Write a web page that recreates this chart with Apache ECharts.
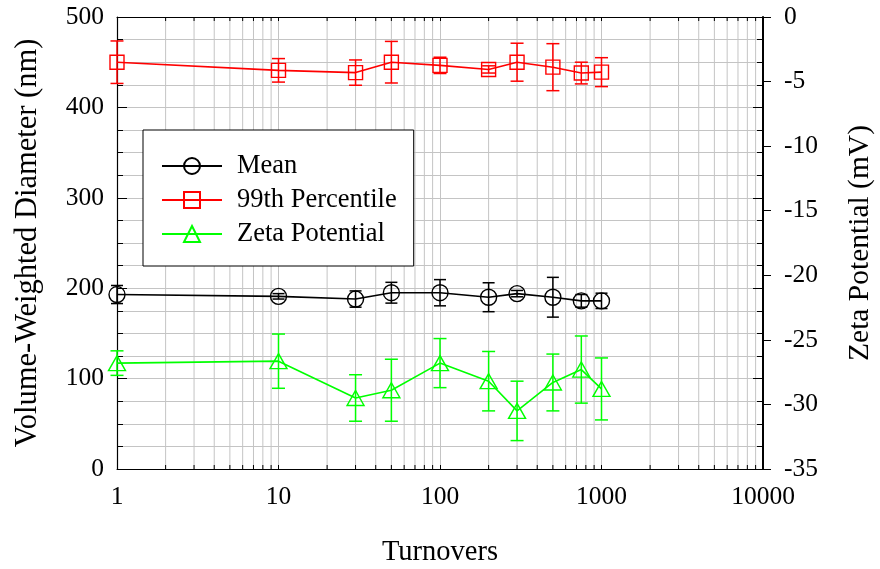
<!DOCTYPE html>
<html>
<head>
<meta charset="utf-8">
<title>Turnovers</title>
<script src="https://cdn.jsdelivr.net/npm/echarts@6/dist/echarts.min.js"></script>
<style>
  html, body { margin: 0; padding: 0; background: #fff; }
  #chart { width: 880px; height: 569px; }
</style>
</head>
<body>
<div id="chart"></div>
<script>
// Turnover counts (x, log scale)
const turnovers = [1, 10, 30, 50, 100, 200, 300, 500, 750, 1000];

// Volume-weighted mean diameter (nm) and its error
const meanDiameter = [193, 191, 188, 195, 195, 190, 194, 190, 186, 186];
const meanError    = [10, 3, 9, 11.5, 14.5, 16, 3.5, 22, 7, 8.5];

// 99th percentile diameter (nm) and its error
const p99Diameter = [450, 441, 438.5, 450, 446.5, 442, 450, 444.5, 438, 439];
const p99Error    = [23.5, 13, 14, 23, 9, 4, 21, 26, 12, 16];

// Zeta potential (mV) and its error
const zetaPotential = [-26.8, -26.65, -29.5, -28.9, -26.8, -28.2, -30.5, -28.3, -27.3, -28.8];
const zetaError     = [0.95, 2.1, 1.8, 2.4, 1.9, 2.3, 2.3, 2.2, 2.6, 2.4];

// Axis ticks
const xTicks = [1, 10, 100, 1000, 10000];
const leftTicks = [0, 100, 200, 300, 400, 500];
const rightTicks = [-35, -30, -25, -20, -15, -10, -5, 0];

// Minor log positions 2..9 within each decade
const xMinorTicks = [];
for (let d = 0; d < xTicks.length - 1; d++) {
  for (let k = 2; k <= 9; k++) xMinorTicks.push(k * xTicks[d]);
}

const FONT = 'Liberation Serif';
const GRID_COLOR = '#c4c4c4';

function pairs(ys) { return turnovers.map((x, i) => [x, ys[i]]); }
function errRows(ys, es) { return turnovers.map((x, i) => [x, ys[i] - es[i], ys[i] + es[i]]); }

function errorBarRenderer(color, capHalf) {
  return function (params, api) {
    const x = api.value(0);
    const lo = api.coord([x, api.value(1)]);
    const hi = api.coord([x, api.value(2)]);
    const st = { stroke: color, lineWidth: 1.5 };
    return {
      type: 'group',
      children: [
        { type: 'line', shape: { x1: lo[0], y1: lo[1], x2: hi[0], y2: hi[1] }, style: st },
        { type: 'line', shape: { x1: hi[0] - capHalf, y1: hi[1], x2: hi[0] + capHalf, y2: hi[1] }, style: st },
        { type: 'line', shape: { x1: lo[0] - capHalf, y1: lo[1], x2: lo[0] + capHalf, y2: lo[1] }, style: st }
      ]
    };
  };
}

// Minor vertical grid lines plus inside minor ticks on top and bottom edges
function minorGridRenderer(params, api) {
  const v = api.value(0);
  const b = api.coord([v, leftTicks[0]]);
  const t = api.coord([v, leftTicks[leftTicks.length - 1]]);
  return {
    type: 'group',
    children: [
      { type: 'line', shape: { x1: b[0], y1: b[1], x2: t[0], y2: t[1] }, style: { stroke: GRID_COLOR, lineWidth: 1 } },
      { type: 'line', shape: { x1: b[0], y1: b[1], x2: b[0], y2: b[1] - 4 }, style: { stroke: '#000', lineWidth: 1 } },
      { type: 'line', shape: { x1: t[0], y1: t[1], x2: t[0], y2: t[1] + 4 }, style: { stroke: '#000', lineWidth: 1 } }
    ]
  };
}

const chart = echarts.init(document.getElementById('chart'), null, { renderer: 'canvas' });

const textBase = { fontFamily: FONT, color: '#000' };

chart.setOption({
  animation: false,
  backgroundColor: '#fff',
  textStyle: { fontFamily: FONT },
  grid: { left: 117, right: 117, top: 17, bottom: 100, containLabel: false, outerBoundsMode: 'none' },
  legend: {
    left: 143,
    top: 130,
    orient: 'vertical',
    data: ['Mean', '99th Percentile', 'Zeta Potential'],
    itemWidth: 60,
    itemHeight: 20,
    itemGap: 7,
    padding: [22.5, 17, 18.5, 18],
    backgroundColor: '#fff',
    borderColor: '#000',
    borderWidth: 1,
    borderRadius: 0,
    textStyle: Object.assign({ fontSize: 26.5, padding: [0, 0, 0, 10] }, textBase)
  },
  xAxis: [
    {
      type: 'log', logBase: 10, position: 'bottom',
      min: xTicks[0], max: xTicks[xTicks.length - 1],
      name: 'Turnovers', nameLocation: 'middle', nameGap: 69,
      nameTextStyle: Object.assign({ fontSize: 28.5 }, textBase),
      axisLine: { lineStyle: { color: '#000', width: 1 } },
      axisTick: { inside: true, length: 4, lineStyle: { color: '#000' } },
      axisLabel: Object.assign({
        fontSize: 25.5, margin: 15,
        formatter: v => String(xTicks.find(t => Math.abs(t - v) / t < 1e-6) ?? '')
      }, textBase),
      splitLine: { show: true, lineStyle: { color: GRID_COLOR, width: 1 } }
    },
    {
      type: 'log', logBase: 10, position: 'top',
      min: xTicks[0], max: xTicks[xTicks.length - 1],
      axisLine: { lineStyle: { color: '#000', width: 1 } },
      axisTick: { inside: true, length: 4, lineStyle: { color: '#000' } },
      axisLabel: { show: false },
      splitLine: { show: false }
    }
  ],
  yAxis: [
    {
      type: 'value', position: 'left',
      min: leftTicks[0], max: leftTicks[leftTicks.length - 1], interval: 100,
      name: 'Volume-Weighted Diameter (nm)', nameLocation: 'middle', nameGap: 74, nameRotate: 90,
      nameTextStyle: Object.assign({ fontSize: 30.5 }, textBase),
      axisLine: { show: true, lineStyle: { color: '#000', width: 1.2 } },
      axisTick: { show: true, inside: true, length: 10, lineStyle: { color: '#000' } },
      minorTick: { show: true, splitNumber: 4, length: 6, lineStyle: { color: '#000' } },
      axisLabel: Object.assign({ fontSize: 25.5, margin: 13 }, textBase),
      splitLine: { show: true, lineStyle: { color: GRID_COLOR, width: 1 } },
      minorSplitLine: { show: true, lineStyle: { color: GRID_COLOR, width: 1 } }
    },
    {
      type: 'value', position: 'right',
      min: rightTicks[0], max: rightTicks[rightTicks.length - 1], interval: 5,
      name: 'Zeta Potential (mV)', nameLocation: 'middle', nameGap: 82, nameRotate: 90,
      nameTextStyle: Object.assign({ fontSize: 29.5 }, textBase),
      axisLine: { show: true, lineStyle: { color: '#000', width: 2 } },
      axisTick: { show: true, inside: false, length: 8, lineStyle: { color: '#000' } },
      axisLabel: Object.assign({ fontSize: 25.5, margin: 21 }, textBase),
      splitLine: { show: false }
    },
    {
      // mirrored diameter ticks along the right edge
      type: 'value', position: 'right',
      min: leftTicks[0], max: leftTicks[leftTicks.length - 1], interval: 100,
      axisLine: { show: false },
      axisTick: { show: true, inside: true, length: 10, lineStyle: { color: '#000' } },
      minorTick: { show: true, splitNumber: 4, length: 6, lineStyle: { color: '#000' } },
      axisLabel: { show: false },
      splitLine: { show: false }
    }
  ],
  series: [
    {
      type: 'custom', name: 'minorGrid', silent: true, z: 0,
      xAxisIndex: 0, yAxisIndex: 0,
      data: xMinorTicks.map(v => [v, 0]),
      encode: { x: 0, y: 1 },
      renderItem: minorGridRenderer
    },
    {
      type: 'custom', name: 'meanErr', silent: true, z: 3,
      xAxisIndex: 0, yAxisIndex: 0,
      data: errRows(meanDiameter, meanError),
      encode: { x: 0, y: [1, 2] },
      renderItem: errorBarRenderer('#000', 6)
    },
    {
      type: 'custom', name: 'p99Err', silent: true, z: 3,
      xAxisIndex: 0, yAxisIndex: 0,
      data: errRows(p99Diameter, p99Error),
      encode: { x: 0, y: [1, 2] },
      renderItem: errorBarRenderer('#ff0000', 6.5)
    },
    {
      type: 'custom', name: 'zetaErr', silent: true, z: 3,
      xAxisIndex: 0, yAxisIndex: 1,
      data: errRows(zetaPotential, zetaError),
      encode: { x: 0, y: [1, 2] },
      renderItem: errorBarRenderer('#00ff00', 6.5)
    },
    {
      type: 'line', name: 'Mean', z: 4,
      xAxisIndex: 0, yAxisIndex: 0,
      data: pairs(meanDiameter),
      symbol: 'circle', symbolSize: 16,
      lineStyle: { color: '#000', width: 1.6 },
      itemStyle: { color: 'rgba(0,0,0,0)', borderColor: '#000', borderWidth: 1.4 }
    },
    {
      type: 'line', name: '99th Percentile', z: 4,
      xAxisIndex: 0, yAxisIndex: 0,
      data: pairs(p99Diameter),
      symbol: 'rect', symbolSize: 14,
      lineStyle: { color: '#ff0000', width: 1.6 },
      itemStyle: { color: 'rgba(0,0,0,0)', borderColor: '#ff0000', borderWidth: 1.4 }
    },
    {
      type: 'line', name: 'Zeta Potential', z: 4,
      xAxisIndex: 0, yAxisIndex: 1,
      data: pairs(zetaPotential),
      symbol: 'triangle', symbolSize: [17, 15],
      lineStyle: { color: '#00ff00', width: 1.6 },
      itemStyle: { color: 'rgba(0,0,0,0)', borderColor: '#00ff00', borderWidth: 1.4 }
    }
  ]
});
</script>
</body>
</html>
